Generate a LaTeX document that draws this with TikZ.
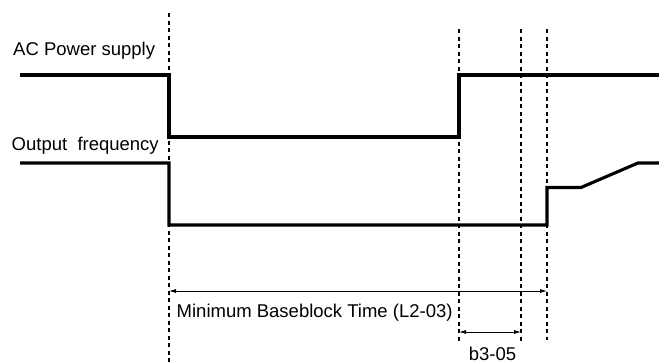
\documentclass[tikz,border=0pt]{standalone}
\usepackage{fontspec}
\setmainfont{Liberation Sans}
\usetikzlibrary{arrows.meta}
\begin{document}
\begin{tikzpicture}[x=1pt,y=-1pt,
  wave/.style={line width=3.1pt,line join=miter,line cap=butt},
  guide/.style={line width=1.4pt,dash pattern=on 4.3pt off 3.2pt},
  dim/.style={line width=0.8pt,{Latex[length=7pt,width=4pt]}-{Latex[length=7pt,width=4pt]}},
  lbl/.style={inner sep=0pt,anchor=base west,font=\fontsize{18.5}{20}\selectfont}]
\useasboundingbox (0,0) rectangle (659,364);
% guide lines
\coordinate (g1t) at (169,13);  \coordinate (g1b) at (169,364);
\coordinate (g2t) at (459,29);  \coordinate (g2b) at (459,343);
\coordinate (g3t) at (521,29);  \coordinate (g3b) at (521,343);
\coordinate (g4t) at (547,29);  \coordinate (g4b) at (547,340);
\draw[guide] (g1t) -- (g1b);
\draw[guide] (g2t) -- (g2b);
\draw[guide] (g3t) -- (g3b);
\draw[guide] (g4t) -- (g4b);
% AC power supply
\draw[wave] (20,75) -- (169,75) -- (169,137) -- (459,137) -- (459,75) -- (659,75);
% Output frequency
\draw[wave] (20,163) -- (169,163) -- (169,225) -- (547,225) -- (547,187.5) -- (581,187.5) -- (638,163) -- (659,163);
% labels
\node[lbl] (ac) at (13,55) {AC Power supply};
\node[lbl] (of) at (11.5,150.5) {Output\ \ frequency};
% dimension arrows
\coordinate (m1) at (169,291);
\coordinate (m2) at (547,291);
\draw[dim] (m1) -- (m2);
\node[lbl] (mbt) at (176.5,317.7) {Minimum Baseblock Time (L2-03)};
\coordinate (b1) at (459,332);
\coordinate (b2) at (521,332);
\draw[dim] (b1) -- (b2);
\node[lbl,anchor=base] (b35) at (492.5,360) {b3-05};
\end{tikzpicture}
\end{document}
